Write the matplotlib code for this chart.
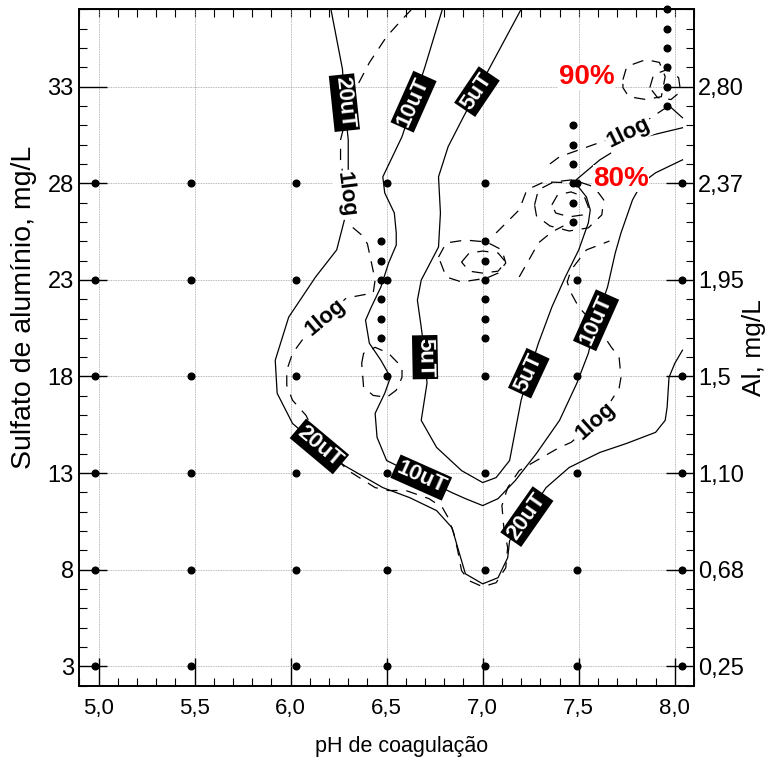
import matplotlib
matplotlib.use('Agg')
import matplotlib.pyplot as plt
from matplotlib.ticker import MultipleLocator, FixedLocator

plt.rcParams['font.family'] = ['Liberation Sans', 'DejaVu Sans']

# pontos experimentais (pH x dose de sulfato, mg/L)
ph_grade = [4.98, 5.48, 6.03, 6.50, 7.01, 7.49, 8.04]
dose_grade = [3, 8, 13, 18, 23, 28]
ph_extra = [6.47] * 6 + [7.01] * 5 + [7.47] * 6 + [7.96] * 6
dose_extra = [20, 21, 22, 23, 24, 25,
              20, 21, 22, 24, 25,
              26, 27, 28, 29, 30, 31,
              32, 33, 34, 35, 36, 37]

# isolinhas de turbidez/cor remanescente (linhas cheias)
ph_20 = [6.21, 6.27, 6.28, 6.30, 6.30, 6.29, 6.28, 6.24, 6.13, 5.99, 5.92, 5.93, 6.01, 6.15,
         6.28, 6.48, 6.62, 6.76, 6.84, 6.87, 6.91, 7.00, 7.08, 7.13, 7.14, 7.23, 7.33, 7.45,
         7.61, 7.75, 7.90, 7.95, 7.96, 7.97, 8.00, 8.04]
dose_20 = [37.0, 33.9, 32.2, 30.25, 28.7, 27.4, 26.1, 24.55, 23.15, 21.07, 18.84, 17.13, 15.57, 14.38,
           13.39, 12.25, 11.73, 11.06, 10.18, 9.14, 7.79, 7.27, 7.59, 8.62, 9.50, 10.75, 12.25, 13.29,
           14.07, 14.54, 15.11, 15.73, 16.40, 17.96, 18.68, 19.36]

ph_10 = [6.79, 6.70, 6.64, 6.58, 6.53, 6.48, 6.49, 6.54, 6.55, 6.55, 6.51, 6.47, 6.42, 6.39, 6.41,
         6.47, 6.52, 6.49, 6.44, 6.45, 6.50, 6.68, 6.84, 6.91, 7.00, 7.08, 7.17, 7.28, 7.40, 7.49,
         7.55, 7.59, 7.65, 7.69, 7.72, 7.78, 7.83, 7.90, 8.04]
dose_10 = [37.0, 34.04, 32.22, 30.41, 29.37, 28.33, 27.5, 26.46, 25.43, 24.8, 23.87, 22.63, 21.59, 20.91, 19.72,
           18.84, 17.96, 17.13, 16.09, 14.85, 13.65, 12.77, 11.99, 11.68, 11.32, 11.68, 12.62, 14.02, 15.73, 17.65,
           19.2, 20.91, 22.63, 24.39, 25.43, 27.14, 28.02, 28.54, 29.21]

ph_5 = [7.20, 7.04, 6.97, 6.90, 6.82, 6.77, 6.78, 6.77, 6.68, 6.66, 6.68, 6.70, 6.71, 6.68, 6.76,
        6.89, 7.00, 7.07, 7.14, 7.20, 7.24, 7.29, 7.36, 7.43, 7.50, 7.55, 7.56, 7.54, 7.49, 7.48,
        7.61, 7.78, 8.04]
dose_5 = [37.0, 34.04, 32.74, 31.44, 29.89, 28.33, 26.46, 24.70, 22.99, 21.95, 20.55, 19.0, 17.65, 15.73, 14.33,
          13.13, 12.51, 12.77, 13.65, 16.77, 18.17, 19.72, 21.59, 23.15, 24.55, 25.95, 26.62, 27.29, 27.92, 28.12,
          29.21, 30.25, 30.87]

ph_canto = [7.97, 8.04]
dose_canto = [32.01, 31.39]

# isolinhas de remocao (tracejadas)
ph_log = [6.63, 6.58, 6.50, 6.41, 6.35, 6.30, 6.26, 6.26, 6.29, 6.32, 6.37, 6.40, 6.42, 6.44, 6.43,
          6.37, 6.29, 6.18, 6.06, 6.01, 5.98, 5.98, 6.01, 6.08, 6.15, 6.30, 6.44, 6.51, 6.60, 6.72,
          6.79, 6.82, 6.85, 6.87, 6.89, 6.93, 7.00, 7.07, 7.12, 7.13, 7.11, 7.10, 7.13, 7.19, 7.28,
          7.40, 7.46, 7.59, 7.67, 7.71, 7.72, 7.71, 7.67, 7.61, 7.50, 7.46, 7.44, 7.46, 7.54, 7.66]
dose_log = [37.0, 36.47, 35.59, 34.24, 33.10, 31.8, 30.25, 29.21, 27.4, 25.74, 25.32, 24.86, 23.92, 22.99, 22.32,
            22.21, 22.06, 21.07, 19.88, 19.2, 18.32, 17.54, 16.77, 15.99, 14.6, 13.13, 12.25, 12.10, 12.10, 11.68,
            11.22, 10.70, 9.87, 8.99, 7.95, 7.43, 7.12, 7.33, 8.10, 9.14, 10.18, 11.32, 12.25, 13.13, 13.65,
            14.33, 14.59, 15.68, 16.77, 17.39, 17.96, 19.0, 19.51, 20.40, 21.59, 22.32, 22.89, 23.51, 24.55, 25.01]

ph_log2 = [7.35, 7.40, 7.46, 7.59, 7.76, 7.90, 7.97]
dose_log2 = [29.0, 29.37, 29.58, 30.04, 30.61, 31.55, 32.01]

ph_anel65 = [6.37, 6.38, 6.44, 6.51, 6.58, 6.58, 6.55, 6.50, 6.43, 6.38, 6.37]
dose_anel65 = [18.68, 19.20, 19.51, 19.20, 18.48, 17.96, 17.29, 16.92, 17.02, 17.44, 18.68]

ph_anel70 = [6.77, 6.81, 6.91, 7.02, 7.10, 7.12, 7.08, 7.02, 6.89, 6.81, 6.77]
dose_anel70 = [24.18, 24.91, 25.06, 24.96, 24.55, 23.87, 23.35, 23.09, 22.89, 23.15, 24.18]
ph_anel70b = [6.89, 6.93, 7.00, 7.08, 7.12, 7.08, 7.00, 6.93, 6.89]
dose_anel70b = [23.92, 24.39, 24.49, 24.39, 23.92, 23.45, 23.35, 23.45, 23.92]

ph_anel75 = [7.27, 7.29, 7.37, 7.47, 7.58, 7.63, 7.62, 7.55, 7.45, 7.35, 7.28, 7.27]
dose_anel75 = [26.88, 27.66, 28.07, 28.18, 27.81, 27.14, 26.36, 25.69, 25.53, 25.79, 26.31, 26.88]
ph_anel75b = [7.36, 7.39, 7.46, 7.53, 7.55, 7.52, 7.45, 7.38, 7.36]
dose_anel75b = [26.88, 27.40, 27.55, 27.29, 26.77, 26.36, 26.26, 26.46, 26.88]

ph_liga1 = [7.07, 7.19, 7.23, 7.32, 7.47]
dose_liga1 = [25.43, 26.62, 27.66, 28.07, 28.02]
ph_liga2 = [7.19, 7.24, 7.29, 7.36, 7.42]
dose_liga2 = [23.15, 24.02, 24.91, 25.48, 25.79]

ph_anel90 = [7.73, 7.75, 7.85, 7.92, 7.95, 7.93, 7.85, 7.76, 7.73, 7.73]
dose_anel90 = [33.36, 34.04, 34.40, 34.25, 33.52, 32.48, 32.33, 32.48, 32.95, 33.36]
ph_anel90b = [7.87, 7.89, 7.96, 8.02, 8.03, 7.98, 7.91, 7.87]
dose_anel90b = [32.95, 33.62, 33.88, 33.46, 32.74, 32.33, 32.43, 32.95]

# rotulos das isolinhas
rot_ph = [6.28, 6.64, 6.97, 6.70, 6.15, 6.68, 7.23, 7.24, 7.59]
rot_dose = [32.17, 32.22, 32.74, 19.0, 14.38, 12.77, 10.75, 18.17, 20.91]
rot_txt = ['20uT', '10uT', '5uT', '5uT', '20uT', '10uT', '20uT', '5uT', '10uT']
rot_ang = [-84, 66, 56, -89, -40, -24, 55, 65, 66]

log_ph = [6.29, 6.18, 7.59, 7.76]
log_dose = [27.4, 21.07, 15.68, 30.61]
log_ang = [-83, 40, 42, 26]

pct_ph = [7.54, 7.72]
pct_dose = [33.52, 28.23]
pct_txt = ['90%', '80%']

fig = plt.figure(figsize=(7.66, 7.58), dpi=100)
ax = fig.add_axes([79.3 / 766, 1 - 685.7 / 758, 614.7 / 766, 676.4 / 758])

ax.set_xlim(4.9, 8.1)
ax.set_ylim(2, 37)
ax.grid(True, color='#a0a0a0', linestyle=(0, (1, 1)), linewidth=0.6)
ax.set_axisbelow(True)

cheia = dict(color='black', linewidth=0.9)
trac = dict(color='black', linewidth=0.9, dashes=(9, 7))

ax.plot(ph_20, dose_20, **cheia)
ax.plot(ph_10, dose_10, **cheia)
ax.plot(ph_5, dose_5, **cheia)
ax.plot(ph_canto, dose_canto, **cheia)

ax.plot(ph_log, dose_log, **trac)
ax.plot(ph_log2, dose_log2, **trac)
ax.plot(ph_anel65, dose_anel65, **trac)
ax.plot(ph_anel70, dose_anel70, **trac)
ax.plot(ph_anel70b, dose_anel70b, **trac)
ax.plot(ph_anel75, dose_anel75, **trac)
ax.plot(ph_anel75b, dose_anel75b, **trac)
ax.plot(ph_liga1, dose_liga1, **trac)
ax.plot(ph_liga2, dose_liga2, **trac)
ax.plot(ph_anel90, dose_anel90, **trac)
ax.plot(ph_anel90b, dose_anel90b, **trac)

for p in ph_grade:
    ax.plot([p] * len(dose_grade), dose_grade, 'o', color='black', markersize=4.8, clip_on=False, zorder=4)
ax.plot(ph_extra, dose_extra, 'o', color='black', markersize=4.8, clip_on=False, zorder=4)

for x, y, t, r in zip(rot_ph, rot_dose, rot_txt, rot_ang):
    ax.text(x, y, t, rotation=r, rotation_mode='anchor', ha='center', va='center',
            color='white', fontsize=16, fontweight='bold', zorder=6,
            bbox=dict(boxstyle='square,pad=0.1', fc='black', ec='none'))
for x, y, r in zip(log_ph, log_dose, log_ang):
    ax.text(x, y, '1log', rotation=r, rotation_mode='anchor', ha='center', va='center',
            color='black', fontsize=16, fontweight='bold', zorder=6,
            bbox=dict(boxstyle='square,pad=0.08', fc='white', ec='none'))
for x, y, t in zip(pct_ph, pct_dose, pct_txt):
    ax.text(x, y, t, ha='center', va='center', color='red', fontsize=20, fontweight='bold', zorder=6,
            bbox=dict(boxstyle='square,pad=0.02', fc='white', ec='none'))

# eixos
ax.xaxis.set_major_locator(FixedLocator([5.0, 5.5, 6.0, 6.5, 7.0, 7.5, 8.0]))
ax.xaxis.set_minor_locator(MultipleLocator(0.1))
ax.set_xticklabels(['5,0', '5,5', '6,0', '6,5', '7,0', '7,5', '8,0'], fontsize=16)
ax.yaxis.set_major_locator(FixedLocator([3, 8, 13, 18, 23, 28, 33]))
ax.yaxis.set_minor_locator(MultipleLocator(1))
ax.set_yticklabels(['3', '8', '13', '18', '23', '28', '33'], fontsize=17)
ax.tick_params(which='major', direction='in', length=20, width=1.0, top=False, right=False, pad=4)
ax.tick_params(axis='x', which='major', pad=9)
ax.tick_params(which='minor', direction='in', length=6, width=0.8, top=False, right=False)

topo = ax.secondary_xaxis('top')
topo.xaxis.set_major_locator(MultipleLocator(0.1))
topo.tick_params(direction='in', length=6, width=0.8, labeltop=False)

ax2 = ax.twinx()
ax2.set_ylim(2, 37)
ax2.yaxis.set_major_locator(FixedLocator([3, 8, 13, 18, 23, 28, 33]))
ax2.yaxis.set_minor_locator(MultipleLocator(1))
ax2.set_yticklabels(['0,25', '0,68', '1,10', '1,5', '1,95', '2,37', '2,80'], fontsize=17)
ax2.tick_params(which='major', direction='in', length=20, width=1.0, pad=3)
ax2.tick_params(which='minor', direction='in', length=6, width=0.8)

for a in (ax, ax2):
    for s in a.spines.values():
        s.set_linewidth(1.2)

ax.set_xlabel('pH de coagulação', fontsize=15.5)
ax.xaxis.set_label_coords(0.525, -0.075)
ax.set_ylabel('Sulfato de alumínio, mg/L', fontsize=20.5)
ax.yaxis.set_label_coords(-0.069, 0.56)
ax2.set_ylabel('Al, mg/L', fontsize=19)
ax2.yaxis.set_label_coords(1.078, 0.5)

fig.savefig('out.png', dpi=100)
